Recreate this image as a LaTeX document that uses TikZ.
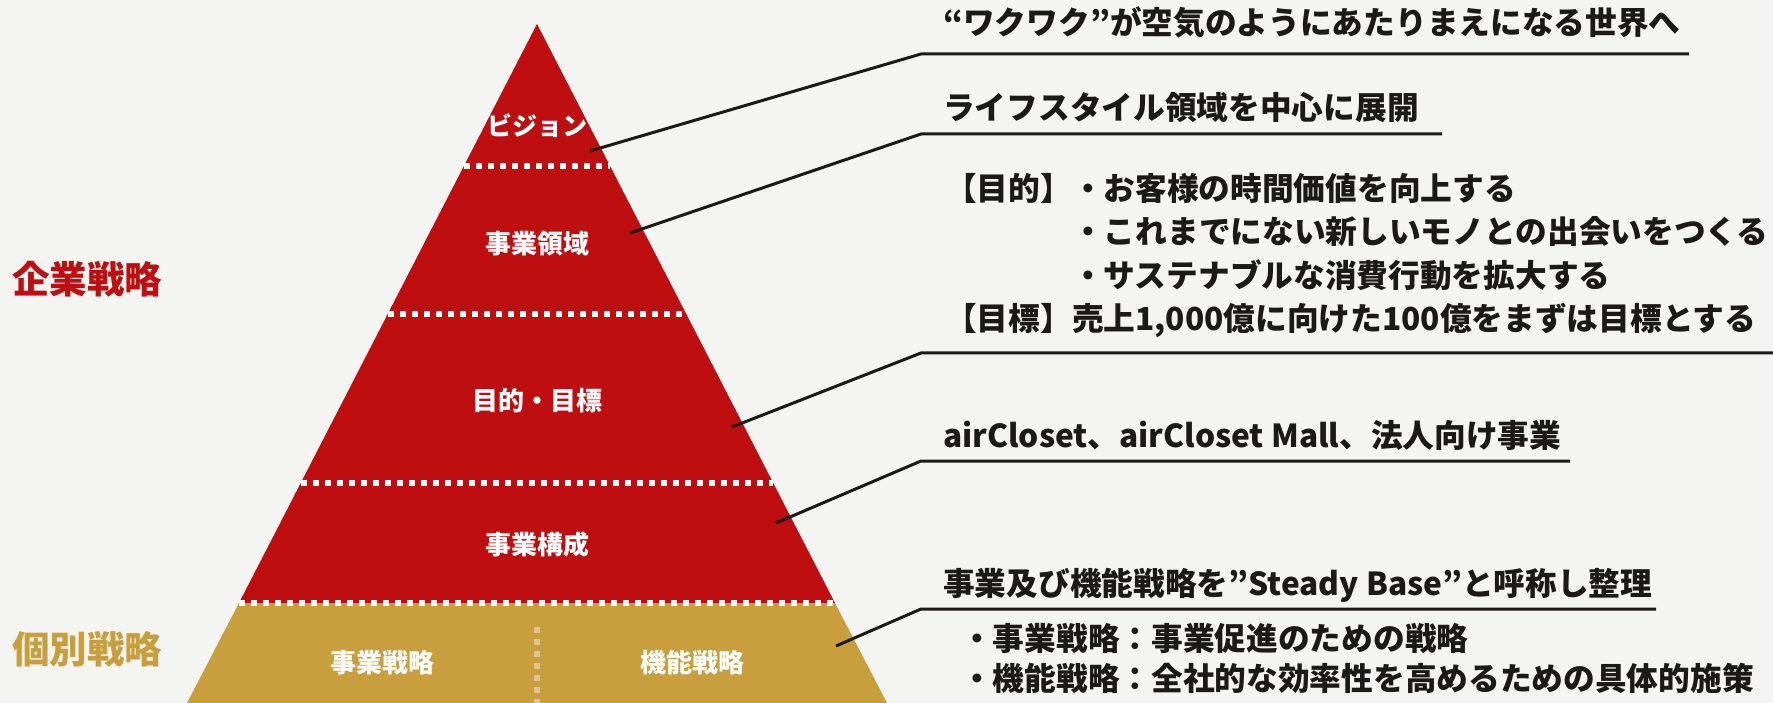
\documentclass[tikz,border=0pt]{standalone}
\usepackage{fontspec}
\setmainfont{Noto Sans CJK JP}
\definecolor{bg}{RGB}{244,244,242}
\definecolor{pred}{RGB}{190,14,15}
\definecolor{pgold}{RGB}{201,159,62}
\definecolor{pgoldl}{RGB}{222,197,141}
\definecolor{ink}{RGB}{28,26,22}
\begin{document}
\begin{tikzpicture}[x=1pt,y=-1pt,
  lbl/.style={text=white,font=\bfseries\fontsize{26}{30}\selectfont,inner sep=0pt,anchor=base},
  rt/.style={text=ink,font=\bfseries\fontsize{31.7}{43}\selectfont,inner sep=0pt,anchor=base west},
  side/.style={font=\bfseries\fontsize{37.5}{40}\selectfont,inner sep=0pt,anchor=base west},
  sepline/.style={white,line width=5.5pt,dash pattern=on 6pt off 6pt},
  vsep/.style={pgoldl,line width=5.5pt,dash pattern=on 6pt off 6pt},
  leader/.style={ink,line width=3pt}]
\useasboundingbox (0,0) rectangle (1773,703);
\fill[bg] (0,0) rectangle (1773,703);

% pyramid
\fill[pred] (537,24) -- (239,603) -- (835,603) -- cycle;
\fill[pgold] (239,603) -- (835,603) -- (887,703) -- (187,703) -- cycle;

\draw[sepline] (464,166) -- (610,166);
\draw[sepline] (388,314) -- (686,314);
\draw[sepline] (301,483) -- (773,483);
\draw[sepline] (239,603) -- (835,603);
\draw[vsep] (537,627) -- (537,703);

% pyramid labels
\node[lbl,font=\bfseries\fontsize{25}{30}\selectfont] (vision) at (537,136) {ビジョン};
\node[lbl] (domain) at (537,254) {事業領域};
\node[lbl] (goal) at (537,410) {目的・目標};
\node[lbl] (comp) at (537,554) {事業構成};
\node[lbl] (bizs) at (382,672) {事業戦略};
\node[lbl] (funcs) at (692,672) {機能戦略};

% side labels
\node[side,text=pred] (corp) at (12,294) {企業戦略};
\node[side,text=pgold] (indiv) at (12,663) {個別戦略};

% leaders
\coordinate (p1) at (590,151); \coordinate (e1) at (921,54);  \coordinate (f1) at (1689,54);
\coordinate (p2) at (630,233); \coordinate (e2) at (921,134); \coordinate (f2) at (1442,134);
\coordinate (p3) at (732,427); \coordinate (e3) at (921,353); \coordinate (f3) at (1773,353);
\coordinate (p4) at (776,523); \coordinate (e4) at (921,461); \coordinate (f4) at (1570,461);
\coordinate (p5) at (836,646); \coordinate (e5) at (921,609); \coordinate (f5) at (1656,609);
\draw[leader] (p1) -- (e1) -- (f1);
\draw[leader] (p2) -- (e2) -- (f2);
\draw[leader] (p3) -- (e3) -- (f3);
\draw[leader] (p4) -- (e4) -- (f4);
\draw[leader] (p5) -- (e5) -- (f5);

% right texts
\node[rt] (t1) at (943,35) {“ワクワク”が空気のようにあたりまえになる世界へ};
\node[rt] (t2) at (943,120) {ライフスタイル領域を中心に展開};
\node[rt] (t3a) at (945,201) {【目的】・お客様の時間価値を向上する};
\node[rt] (t3b) at (1072,244) {・これまでにない新しいモノとの出会いをつくる};
\node[rt] (t3c) at (1072,288) {・サステナブルな消費行動を拡大する};
\node[rt] (t3d) at (945,331) {【目標】売上1,000億に向けた100億をまずは目標とする};
\node[rt] (t4) at (943,447) {airCloset、airCloset Mall、法人向け事業};
\node[rt] (t5) at (943,595) {事業及び機能戦略を”Steady Base”と呼称し整理};
\node[rt] (t6a) at (961,650) {・事業戦略：事業促進のための戦略};
\node[rt] (t6b) at (961,690) {・機能戦略：全社的な効率性を高めるための具体的施策};
\end{tikzpicture}
\end{document}
